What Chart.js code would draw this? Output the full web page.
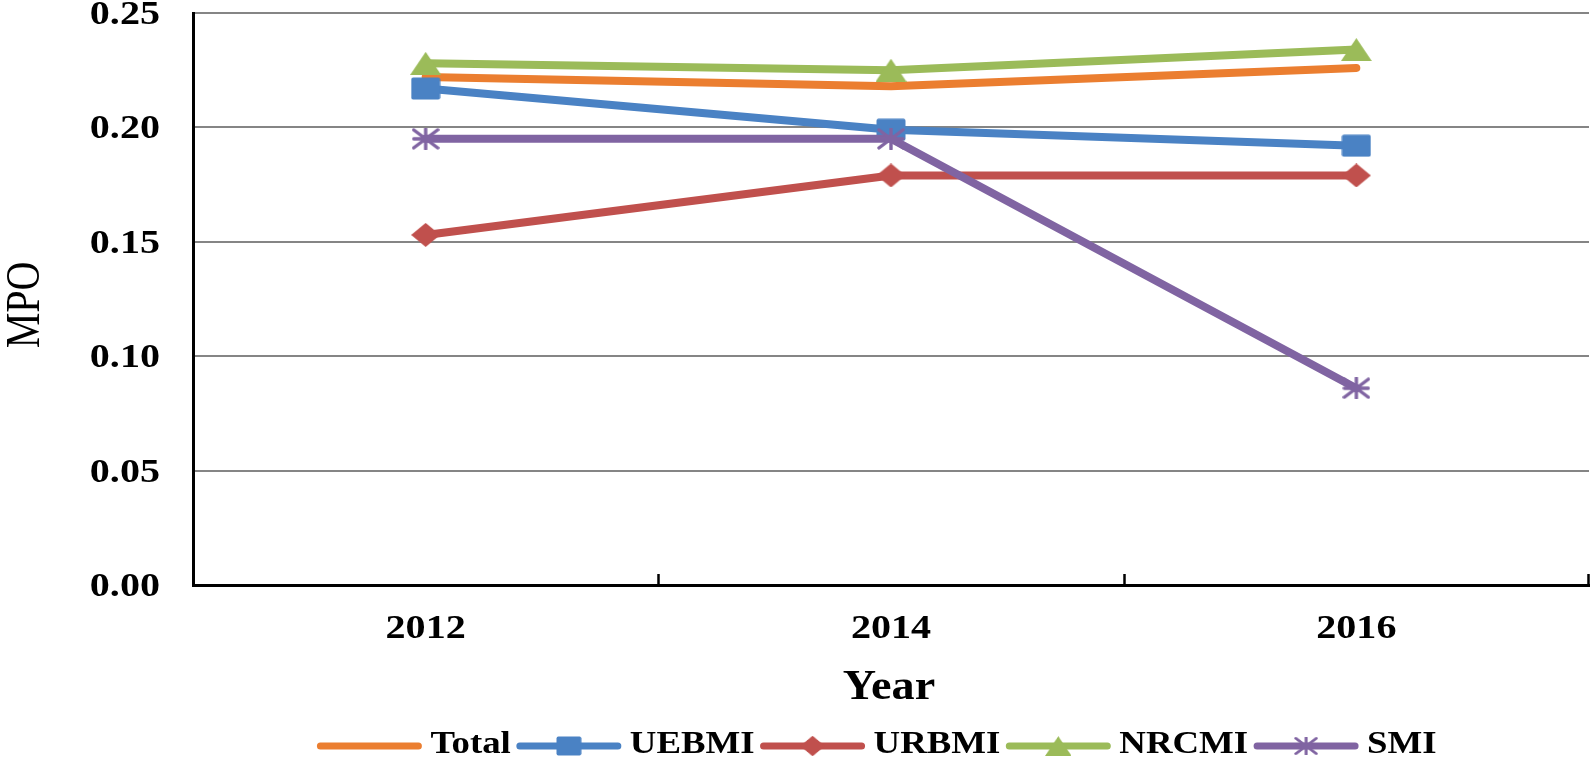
<!DOCTYPE html>
<html><head><meta charset="utf-8">
<script src="https://cdn.jsdelivr.net/npm/chart.js@4.4.1/dist/chart.umd.min.js"></script>
<style>html,body{margin:0;padding:0;background:#fff;overflow:hidden}#wrap{width:1595px;height:761px}</style>
</head><body><div id="wrap"><canvas id="c" width="1595" height="761"></canvas></div>
<script>
// ---- data ----
const years = ['2012', '2014', '2016'];
const seriesNames = ['Total', 'UEBMI', 'URBMI', 'NRCMI', 'SMI'];
const totalVals = [0.222, 0.218, 0.226];
const uebmiVals = [0.217, 0.199, 0.192];
const urbmiVals = [0.153, 0.179, 0.179];
const nrcmiVals = [0.228, 0.225, 0.234];
const smiVals   = [0.195, 0.195, 0.086];
const yTickValues = [0, 0.05, 0.10, 0.15, 0.20, 0.25];
const xTitle = 'Year';
const yTitle = 'MPO';

// ---- styles ----
const FF = '"Liberation Serif", "Times New Roman", serif';
const SX = 1.18; // horizontal stretch of the original figure text
const colors = ['#EB7E30', '#4A82C4', '#C0504D', '#9BBB59', '#8064A2'];
const values = [totalVals, uebmiVals, urbmiVals, nrcmiVals, smiVals];

function markerCanvas(kind, color, w, h) {
  const c = document.createElement('canvas');
  c.width = w; c.height = h;
  const g = c.getContext('2d');
  g.fillStyle = color; g.strokeStyle = color;
  if (kind === 'square') {
    g.beginPath();
    if (g.roundRect) g.roundRect(0.5, 0.5, w - 1, h - 1, 2); else g.rect(0.5, 0.5, w - 1, h - 1);
    g.fill();
  } else if (kind === 'diamond') {
    g.beginPath(); g.moveTo(w / 2, 0); g.lineTo(w, h / 2); g.lineTo(w / 2, h); g.lineTo(0, h / 2); g.closePath(); g.fill();
  } else if (kind === 'triangle') {
    g.beginPath(); g.moveTo(w / 2, 0); g.lineTo(w, h); g.lineTo(0, h); g.closePath(); g.fill();
  } else if (kind === 'star') {
    g.lineWidth = 3.4; g.lineCap = 'round';
    const cx = w / 2, cy = h / 2, rx = w / 2 - 2, ry = h / 2 - 2;
    g.beginPath();
    g.moveTo(cx, cy - ry - 1); g.lineTo(cx, cy + ry + 1);
    g.moveTo(cx - rx, cy - ry); g.lineTo(cx + rx, cy + ry);
    g.moveTo(cx - rx, cy + ry); g.lineTo(cx + rx, cy - ry);
    g.moveTo(cx - rx, cy); g.lineTo(cx + rx, cy);
    g.stroke();
  }
  return c;
}
const markerSpecs = [null, ['square', 30, 23], ['diamond', 29, 24], ['triangle', 31, 23], ['star', 28, 22]];
const markers = markerSpecs.map((s, i) => s ? markerCanvas(s[0], colors[i], s[1], s[2]) : null);

const datasets = seriesNames.map((name, i) => ({
  label: name,
  data: values[i],
  borderColor: colors[i],
  backgroundColor: colors[i],
  borderWidth: 8,
  borderCapStyle: 'round',
  borderJoinStyle: 'round',
  tension: 0,
  pointStyle: markers[i] || 'circle',
  pointRadius: markers[i] ? 14 : 0,
  pointHoverRadius: markers[i] ? 14 : 0,
  order: seriesNames.length - i
}));

function sText(ctx, text, x, y, sx, align) {
  const w = ctx.measureText(text).width * sx;
  const left = align === 'right' ? x - w : align === 'center' ? x - w / 2 : x;
  ctx.save(); ctx.translate(left, y); ctx.scale(sx, 1); ctx.textAlign = 'left'; ctx.fillText(text, 0, 0); ctx.restore();
  return w;
}

const innerTicks = {
  id: 'innerTicks',
  afterDraw(chart) {
    const xs = chart.scales.x, ca = chart.chartArea, ctx = chart.ctx;
    const n = xs.ticks.length;
    const pos = [];
    for (let i = 0; i < n - 1; i++) pos.push((xs.getPixelForTick(i) + xs.getPixelForTick(i + 1)) / 2);
    pos.push(ca.right - 1);
    ctx.save();
    ctx.strokeStyle = '#000';
    ctx.lineWidth = 2.5;
    pos.forEach(p => {
      ctx.beginPath();
      ctx.moveTo(Math.round(p) + 0.5, ca.bottom);
      ctx.lineTo(Math.round(p) + 0.5, ca.bottom - 11);
      ctx.stroke();
    });
    ctx.restore();
  }
};

const axisText = {
  id: 'axisText',
  afterDraw(chart) {
    const ctx = chart.ctx, ca = chart.chartArea, xs = chart.scales.x, ys = chart.scales.y;
    ctx.save();
    ctx.fillStyle = '#000';
    ctx.textBaseline = 'alphabetic';
    ctx.font = 'bold 34px ' + FF;
    ys.ticks.forEach(t => {
      const y = ys.getPixelForValue(t.value);
      sText(ctx, Number(t.value).toFixed(2), ca.left - 33, y + 11, SX, 'right');
    });
    xs.ticks.forEach((t, i) => {
      sText(ctx, years[i], xs.getPixelForTick(i), ca.bottom + 53, SX, 'center');
    });
    ctx.font = 'bold 42px ' + FF;
    sText(ctx, xTitle, (ca.left + ca.right) / 2 - 2, ca.bottom + 114, 1.1, 'center');
    // y title
    ctx.font = '40px ' + FF;
    ctx.save();
    ctx.translate(39, (ca.top + ca.bottom) / 2 + 6);
    ctx.rotate(-Math.PI / 2);
    ctx.scale(1, 1.2);
    ctx.textAlign = 'center';
    ctx.fillText(yTitle, 0, 0);
    ctx.restore();
    ctx.restore();
  }
};

const customLegend = {
  id: 'customLegend',
  afterDraw(chart) {
    const ctx = chart.ctx, ds = chart.data.datasets, ca = chart.chartArea;
    const sx = 1.15, lineLen = 104, gapA = 9, gapB = 6;
    ctx.save();
    ctx.font = 'bold 32px ' + FF;
    const widths = ds.map(d => ctx.measureText(d.label).width * sx);
    const totalW = widths.reduce((a, b) => a + b, 0) + ds.length * (lineLen + gapA) + (ds.length - 1) * gapB;
    let x = (ca.left + ca.right) / 2 - 14 - totalW / 2;
    const y = chart.height - 15;
    ds.forEach((d, i) => {
      ctx.strokeStyle = d.borderColor;
      ctx.lineWidth = 7;
      ctx.lineCap = 'round';
      ctx.beginPath();
      ctx.moveTo(x + 3, y);
      ctx.lineTo(x + lineLen - 3, y);
      ctx.stroke();
      const m = markers[i];
      if (m) {
        const w = m.width * 0.85, h = m.height * 0.85;
        ctx.drawImage(m, x + lineLen / 2 - w / 2, y - h / 2, w, h);
      }
      x += lineLen + gapA;
      ctx.fillStyle = '#000';
      ctx.textBaseline = 'middle';
      sText(ctx, d.label, x, y - 1, sx, 'left');
      x += widths[i] + gapB;
    });
    ctx.restore();
  }
};

new Chart(document.getElementById('c'), {
  type: 'line',
  data: {labels: years, datasets: datasets},
  options: {
    responsive: false,
    animation: false,
    events: [],
    layout: {autoPadding: false, padding: {top: 13, right: 6, bottom: 51, left: 0}},
    plugins: {legend: {display: false}, tooltip: {enabled: false}},
    scales: {
      x: {
        type: 'category',
        offset: true,
        grid: {display: false, drawTicks: false},
        border: {display: true, color: '#000', width: 3},
        ticks: {display: false},
        title: {display: false},
        afterFit(s) { s.height = 125; s.paddingLeft = 0; s.paddingRight = 0; }
      },
      y: {
        min: 0, max: 0.25,
        afterBuildTicks(s) { s.ticks = yTickValues.map(v => ({value: v})); },
        grid: {color: '#858585', lineWidth: 2, drawTicks: false},
        border: {color: '#000', width: 3},
        ticks: {display: false},
        title: {display: false},
        afterFit(s) { s.width = 193; s.paddingTop = 0; s.paddingBottom = 0; }
      }
    }
  },
  plugins: [innerTicks, axisText, customLegend]
});
</script>
</body></html>
